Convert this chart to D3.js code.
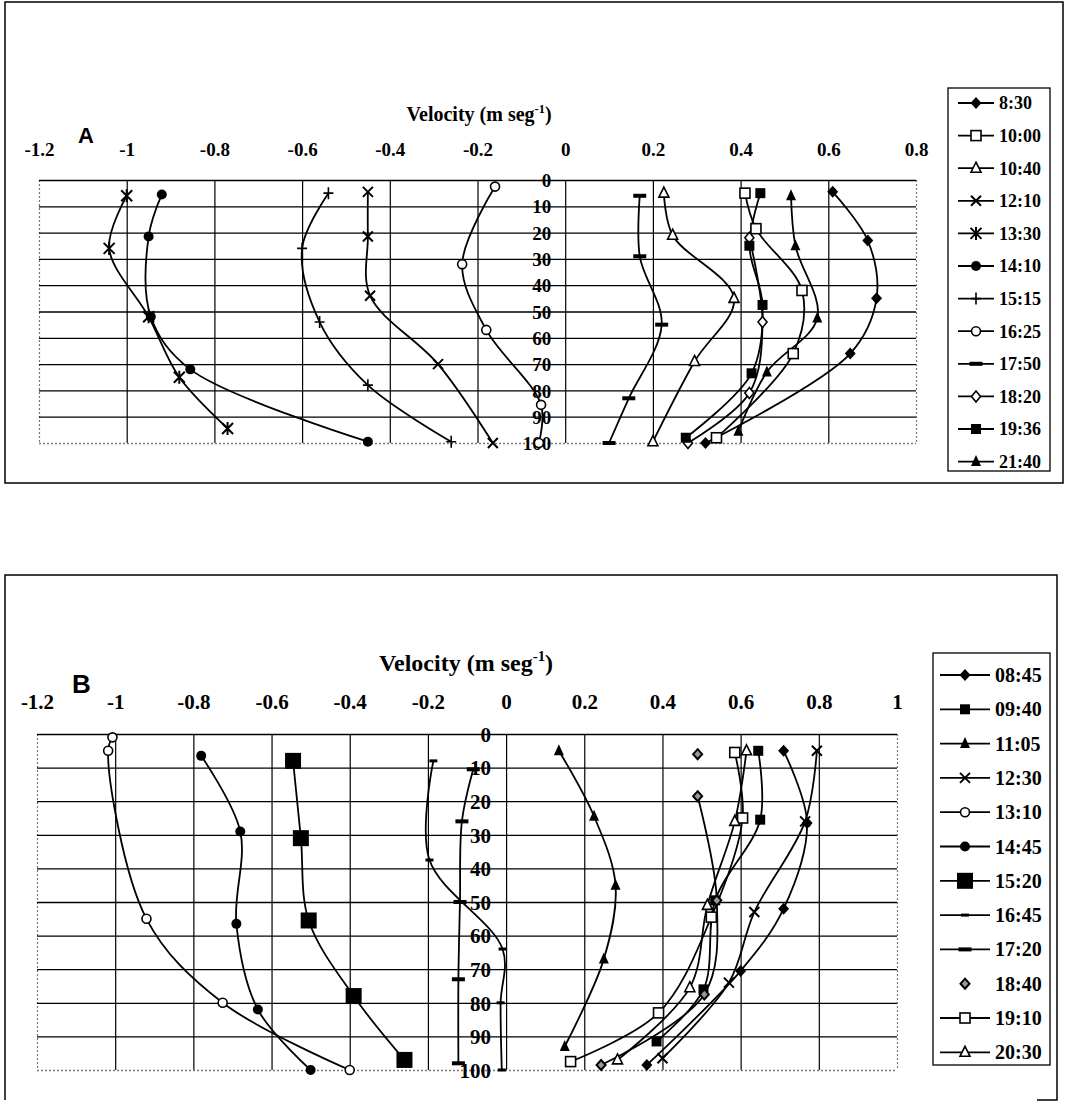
<!DOCTYPE html>
<html>
<head>
<meta charset="utf-8">
<script src="https://cdn.jsdelivr.net/npm/d3@7"></script>
<style>
body { margin: 0; background: #fff; }
text { font-family: "Liberation Serif", "Times New Roman", serif; font-weight: bold; fill: #000; }
</style>
</head>
<body>
<div id="chart"></div>
<script>
//Width and height
var w = 1067;
var h = 1105;

//Ticks
var depthTicks = [0, 10, 20, 30, 40, 50, 60, 70, 80, 90, 100];
var velTicksA = [-1.2, -1, -0.8, -0.6, -0.4, -0.2, 0, 0.2, 0.4, 0.6, 0.8];
var velTicksB = [-1.2, -1, -0.8, -0.6, -0.4, -0.2, 0, 0.2, 0.4, 0.6, 0.8, 1];

//Panel A: [velocity, depth %]
var timesA = ["8:30", "10:00", "10:40", "12:10", "13:30", "14:10", "15:15", "16:25", "17:50", "18:20", "19:36", "21:40"];
var a0830 = [[0.61, 4.5], [0.69, 23], [0.71, 45], [0.65, 66], [0.32, 100]];
var a1000 = [[0.41, 5], [0.435, 18.5], [0.54, 42], [0.52, 66], [0.345, 98]];
var a1040 = [[0.225, 5], [0.245, 21], [0.385, 45], [0.295, 69], [0.2, 99.5]];
var a1210 = [[-0.45, 4.5], [-0.45, 21.5], [-0.445, 44], [-0.29, 70], [-0.165, 100]];
var a1330 = [[-1.0, 6], [-1.04, 26], [-0.95, 52], [-0.88, 75], [-0.77, 94.5]];
var a1410 = [[-0.92, 5.5], [-0.95, 21.5], [-0.945, 52], [-0.855, 72], [-0.45, 99.5]];
var a1515 = [[-0.54, 5], [-0.6, 26], [-0.56, 54], [-0.45, 78], [-0.26, 99.5]];
var a1625 = [[-0.16, 2.5], [-0.235, 32], [-0.18, 57], [-0.055, 85.5], [-0.06, 100]];
var a1750 = [[0.17, 6], [0.17, 29], [0.22, 55], [0.145, 83], [0.1, 100]];
var a1820 = [[0.42, 22], [0.45, 54], [0.42, 81], [0.28, 100]];
var a1936 = [[0.445, 5], [0.42, 25], [0.45, 47.5], [0.425, 73.5], [0.275, 98]];
var a2140 = [[0.515, 6], [0.525, 25], [0.575, 52.5], [0.46, 73], [0.395, 95.5]];
var seriesA = [a0830, a1000, a1040, a1210, a1330, a1410, a1515, a1625, a1750, a1820, a1936, a2140];

//Panel B: [velocity, depth %]
var timesB = ["08:45", "09:40", "11:05", "12:30", "13:10", "14:45", "15:20", "16:45", "17:20", "18:40", "19:10", "20:30"];
var b0845 = [[0.71, 5], [0.77, 26.5], [0.71, 52], [0.6, 70.5], [0.36, 98.5]];
var b0940 = [[0.645, 5], [0.65, 25.5], [0.535, 49.5], [0.505, 76], [0.385, 91.5]];
var b1105 = [[0.135, 5], [0.225, 24.5], [0.28, 45], [0.25, 67], [0.15, 93]];
var b1230 = [[0.795, 5], [0.765, 26], [0.635, 53], [0.57, 74], [0.4, 96.5]];
var b1310 = [[-1.007, 1], [-1.018, 5], [-0.92, 55], [-0.725, 80], [-0.4, 100]];
var b1445 = [[-0.78, 6.5], [-0.68, 29], [-0.69, 56.5], [-0.635, 82], [-0.5, 100]];
var b1520 = [[-0.545, 8], [-0.525, 31], [-0.505, 55.5], [-0.39, 78], [-0.26, 97]];
var b1645 = [[-0.186, 8], [-0.196, 37.5], [-0.009, 64], [-0.014, 80], [-0.011, 100]];
var b1720 = [[-0.084, 10.5], [-0.113, 26], [-0.118, 50], [-0.122, 73], [-0.122, 98]];
var b1840 = [[0.49, 6], [0.49, 18.5], [0.539, 49.5], [0.507, 77.5], [0.243, 98.5]];
var b1910 = [[0.585, 5.5], [0.605, 25], [0.525, 54.5], [0.39, 83], [0.165, 97.5]];
var b2030 = [[0.615, 5], [0.585, 26], [0.515, 51], [0.47, 75.5], [0.285, 97]];
var seriesB = [b0845, b0940, b1105, b1230, b1310, b1445, b1520, b1645, b1720, b1840, b1910, b2030];

//Marker styles
var markersA = ["diamond", "squareOpen", "triangleOpen", "x", "star", "circle", "plus", "circleOpen", "dash", "diamondOpen", "square", "triangle"];
var markersB = ["diamond", "square", "triangle", "x", "circleOpen", "circle", "squareBig", "dashSmall", "dash", "diamondSmall", "squareOpen", "triangleOpen"];

var svg = d3.select("#chart")
	.append("svg")
	.attr("width", w)
	.attr("height", h);

svg.append("rect").attr("width", w).attr("height", h).attr("fill", "#fff");

//Draws one marker centred on x,y
function marker(g, type, x, y) {
	switch (type) {
	case "diamond":
		g.append("path").attr("d", "M" + x + "," + (y - 6) + "l5.5,6l-5.5,6l-5.5,-6z").attr("fill", "#000");
		break;
	case "diamondOpen":
		g.append("path").attr("d", "M" + x + "," + (y - 5.5) + "l4.5,5.5l-4.5,5.5l-4.5,-5.5z").attr("fill", "#fff").attr("stroke", "#000").attr("stroke-width", 1.6);
		break;
	case "diamondSmall":
		g.append("path").attr("d", "M" + x + "," + (y - 5) + "l4.5,5l-4.5,5l-4.5,-5z").attr("fill", "#999").attr("stroke", "#000").attr("stroke-width", 2);
		break;
	case "square":
		g.append("rect").attr("x", x - 5).attr("y", y - 5).attr("width", 10).attr("height", 10).attr("fill", "#000");
		break;
	case "squareBig":
		g.append("rect").attr("x", x - 8).attr("y", y - 8).attr("width", 16).attr("height", 16).attr("fill", "#000");
		break;
	case "squareOpen":
		g.append("rect").attr("x", x - 5).attr("y", y - 5).attr("width", 10).attr("height", 10).attr("fill", "#fff").attr("stroke", "#000").attr("stroke-width", 1.6);
		break;
	case "triangle":
		g.append("path").attr("d", "M" + x + "," + (y - 6.5) + "l5,11l-10,0z").attr("fill", "#000");
		break;
	case "triangleOpen":
		g.append("path").attr("d", "M" + x + "," + (y - 6) + "l5,10l-10,0z").attr("fill", "#fff").attr("stroke", "#000").attr("stroke-width", 1.6);
		break;
	case "circle":
		g.append("circle").attr("cx", x).attr("cy", y).attr("r", 5).attr("fill", "#000");
		break;
	case "circleOpen":
		g.append("circle").attr("cx", x).attr("cy", y).attr("r", 4.5).attr("fill", "#fff").attr("stroke", "#000").attr("stroke-width", 1.6);
		break;
	case "x":
		g.append("path").attr("d", "M" + (x - 5) + "," + (y - 5) + "l10,10M" + (x + 5) + "," + (y - 5) + "l-10,10").attr("stroke", "#000").attr("stroke-width", 2);
		break;
	case "star":
		g.append("path").attr("d", "M" + (x - 5.5) + "," + (y - 5.5) + "l11,11M" + (x + 5.5) + "," + (y - 5.5) + "l-11,11M" + x + "," + (y - 6.5) + "l0,13").attr("stroke", "#000").attr("stroke-width", 2);
		break;
	case "plus":
		g.append("path").attr("d", "M" + (x - 5) + "," + y + "l10,0M" + x + "," + (y - 6) + "l0,12").attr("stroke", "#000").attr("stroke-width", 1.6);
		break;
	case "dash":
		g.append("rect").attr("x", x - 6.5).attr("y", y - 2).attr("width", 13).attr("height", 4).attr("fill", "#000");
		break;
	case "dashSmall":
		g.append("rect").attr("x", x - 4).attr("y", y - 1.5).attr("width", 8).attr("height", 3).attr("fill", "#000");
		break;
	}
}

function titleText(g, x, y, size) {
	var t = g.append("text")
		.attr("x", x)
		.attr("y", y)
		.attr("text-anchor", "middle")
		.style("font-size", size + "px");
	t.append("tspan").text("Velocity (m seg");
	t.append("tspan").attr("dy", -size * 0.42).style("font-size", (size * 0.62) + "px").text("-1");
	t.append("tspan").attr("dy", size * 0.42).text(")");
}

function drawPanel(cfg) {
	var x = d3.scaleLinear().domain(cfg.xDomain).range(cfg.xRange);
	var y = d3.scaleLinear().domain([0, 100]).range(cfg.yRange);
	var g = svg.append("g");
	var pw = cfg.xRange[1] - cfg.xRange[0];
	var ph = cfg.yRange[1] - cfg.yRange[0];

	//Vertical gridlines
	g.append("g")
		.attr("transform", "translate(0," + cfg.yRange[0] + ")")
		.call(d3.axisTop(x).tickValues(cfg.xTicks).tickSize(-ph).tickFormat(""))
		.call(function(s) {
			s.select(".domain").remove();
			s.selectAll("line").attr("stroke-width", 1.2)
				.attr("stroke-dasharray", function(d, i, n) { return (i === 0 || i === n.length - 1) ? "2,2" : null; })
				.attr("stroke", function(d, i, n) { return (i === 0 || i === n.length - 1) ? "#777" : "#000"; });
		});

	//Horizontal gridlines
	g.append("g")
		.attr("transform", "translate(" + cfg.xRange[0] + ",0)")
		.call(d3.axisLeft(y).tickValues(depthTicks).tickSize(-pw).tickFormat(""))
		.call(function(s) {
			s.select(".domain").remove();
			s.selectAll("line")
				.attr("stroke-width", function(d) { return d === 0 ? 1.6 : 1.3; })
				.attr("stroke", function(d) { return d === 100 ? "#777" : "#000"; })
				.attr("stroke-dasharray", function(d) { return d === 100 ? "2,2" : null; });
		});

	//Depth labels beside zero line
	g.append("g")
		.attr("transform", "translate(" + x(0) + ",0)")
		.call(d3.axisLeft(y).tickValues(depthTicks).tickSize(0).tickPadding(cfg.depthPad))
		.call(function(s) {
			s.select(".domain").remove();
			s.attr("font-family", null).attr("font-size", null);
			s.selectAll("text").style("font-size", cfg.tickSize + "px").attr("dy", "0.35em");
		});

	//Velocity labels
	g.append("g")
		.attr("transform", "translate(0," + cfg.yRange[0] + ")")
		.call(d3.axisTop(x).tickValues(cfg.xTicks).tickSize(0).tickPadding(cfg.velPad).tickFormat(function(d) { return String(d); }))
		.call(function(s) {
			s.select(".domain").remove();
			s.attr("font-family", null).attr("font-size", null);
			s.selectAll("text").style("font-size", cfg.tickSize + "px");
		});

	titleText(g, cfg.titleX, cfg.titleY, cfg.titleSize);

	g.append("text")
		.attr("x", cfg.letterX)
		.attr("y", cfg.letterY)
		.style("font-family", "'Liberation Sans', Arial, sans-serif")
		.style("font-size", cfg.letterSize + "px")
		.text(cfg.letter);

	//Lines
	var line = d3.line()
		.x(function(d) { return x(d[0]); })
		.y(function(d) { return y(d[1]); })
		.curve(d3.curveCatmullRom.alpha(0.5));

	cfg.series.forEach(function(s, i) {
		var pts = cfg.lineFrom[i] ? s.slice(cfg.lineFrom[i]) : s;
		g.append("path")
			.attr("d", line(pts))
			.attr("fill", "none")
			.attr("stroke", "#000")
			.attr("stroke-width", 1.8);
	});
	cfg.series.forEach(function(s, i) {
		var mg = g.append("g");
		s.forEach(function(d) { marker(mg, cfg.markers[i], x(d[0]), y(d[1])); });
	});

	//Legend
	var lg = g.append("g");
	lg.append("rect")
		.attr("x", cfg.legBox[0]).attr("y", cfg.legBox[1])
		.attr("width", cfg.legBox[2]).attr("height", cfg.legBox[3])
		.attr("fill", "#fff").attr("stroke", "#000").attr("stroke-width", 1.3);
	cfg.names.forEach(function(n, i) {
		var ly = cfg.legY0 + i * cfg.legStep;
		if (!cfg.lineFrom[i]) {
			lg.append("line")
				.attr("x1", cfg.legX).attr("x2", cfg.legX + cfg.legLen)
				.attr("y1", ly).attr("y2", ly)
				.attr("stroke", "#000").attr("stroke-width", 1.8);
		}
		marker(lg, cfg.markers[i], cfg.legX + cfg.legLen / 2, ly);
		lg.append("text")
			.attr("x", cfg.legX + cfg.legLen + 5)
			.attr("y", ly)
			.attr("dy", "0.35em")
			.style("font-size", cfg.legSize + "px")
			.text(n);
	});
}

//Outer frames
svg.append("rect")
	.attr("x", 5).attr("y", 2).attr("width", 1058).attr("height", 481)
	.attr("fill", "none").attr("stroke", "#000").attr("stroke-width", 1.5);
svg.append("path")
	.attr("d", "M5,1100L5,575L1057,575L1057,1100L1037,1100")
	.attr("fill", "none").attr("stroke", "#000").attr("stroke-width", 1.5);

drawPanel({
	xDomain: [-1.2, 0.8], xRange: [39, 916], yRange: [180, 443],
	xTicks: velTicksA, series: seriesA, names: timesA, markers: markersA,
	lineFrom: [0, 0, 0, 0, 0, 0, 0, 0, 0, 0, 0, 0],
	tickSize: 19, depthPad: 14, velPad: 24,
	titleX: 479, titleY: 121, titleSize: 20,
	letter: "A", letterX: 78, letterY: 143, letterSize: 22,
	legBox: [948, 88, 102, 383], legX: 958, legLen: 36, legY0: 103, legStep: 32.6, legSize: 18
});

drawPanel({
	xDomain: [-1.2, 1], xRange: [37, 897], yRange: [734, 1070],
	xTicks: velTicksB, series: seriesB, names: timesB, markers: markersB,
	lineFrom: [0, 0, 0, 0, 0, 0, 0, 0, 0, 1, 0, 0],
	tickSize: 21, depthPad: 15, velPad: 25,
	titleX: 466, titleY: 671, titleSize: 24,
	letter: "B", letterX: 72, letterY: 693, letterSize: 26,
	legBox: [933, 653, 117, 412], legX: 940, legLen: 50, legY0: 675, legStep: 34.3, legSize: 20
});
</script>
</body>
</html>
